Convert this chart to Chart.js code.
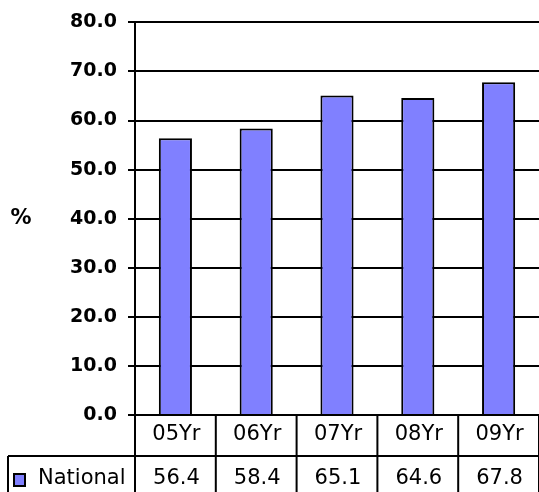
<!DOCTYPE html>
<html>
<head>
<meta charset="utf-8">
<script src="https://cdn.jsdelivr.net/npm/chart.js@4"></script>
<style>
    html, body { margin: 0; padding: 0; background: #fff; }
    #wrap { width: 539px; height: 492px; position: relative; }
</style>
</head>
<body>
<div id="wrap"><canvas id="chart"></canvas></div>
<script>
// Data
const categories = ['05Yr', '06Yr', '07Yr', '08Yr', '09Yr'];
const national = [56.4, 58.4, 65.1, 64.6, 67.8];
const seriesName = 'National';
const axisLabel = '%';

// wide sans to match the stretched look of the original text
const FONT = "'DejaVu Sans', 'Liberation Sans', sans-serif";
const barColor = '#8080ff';

// Data table under the plot + the "%" axis label
const tablePlugin = {
    id: 'dataTable',
    afterDraw(chart) {
        const ctx = chart.ctx;
        const x = chart.scales.x;
        const area = chart.chartArea;
        const n = categories.length;
        const colW = x.width / n;
        const rowH = 41;
        const top = area.bottom;
        const row2 = top + rowH;
        const tableLeft = 8;

        ctx.save();
        ctx.strokeStyle = '#000';
        ctx.lineWidth = 2;

        // horizontal lines
        ctx.beginPath();
        ctx.moveTo(x.left, top);
        ctx.lineTo(x.right, top);
        ctx.moveTo(tableLeft, row2);
        ctx.lineTo(x.right, row2);
        ctx.moveTo(tableLeft, row2 + rowH);
        ctx.lineTo(x.right, row2 + rowH);
        // vertical lines
        for (let i = 0; i <= n; i++) {
            const px = x.left + i * colW;
            ctx.moveTo(px, top);
            ctx.lineTo(px, row2 + rowH);
        }
        ctx.moveTo(tableLeft, row2);
        ctx.lineTo(tableLeft, row2 + rowH);
        ctx.stroke();

        // texts
        ctx.fillStyle = '#000';
        ctx.font = '21px ' + FONT;
        ctx.textAlign = 'center';
        ctx.textBaseline = 'middle';
        categories.forEach((c, i) => {
            const cx = x.getPixelForValue(i);
            ctx.fillText(c, cx + 1, top + 20);
            ctx.fillText(national[i].toFixed(1), cx + 1, row2 + 23);
        });

        // legend key + series name
        ctx.fillStyle = barColor;
        ctx.fillRect(14, row2 + 18, 11, 12);
        ctx.lineWidth = 2;
        ctx.strokeStyle = '#000';
        ctx.strokeRect(14, row2 + 18, 11, 12);
        ctx.fillStyle = '#000';
        ctx.textAlign = 'left';
        ctx.fillText(seriesName, 38, row2 + 23);

        // axis title
        ctx.font = 'bold 21px ' + FONT;
        ctx.textAlign = 'center';
        ctx.fillText(axisLabel, 21, (area.top + area.bottom) / 2);
        ctx.restore();
    }
};

new Chart(document.getElementById('chart'), {
    type: 'bar',
    data: {
        labels: categories,
        datasets: [{
            label: seriesName,
            data: national,
            backgroundColor: barColor,
            borderColor: '#000',
            borderWidth: 2,
            barPercentage: 0.41,
            categoryPercentage: 1
        }]
    },
    options: {
        responsive: true,
        maintainAspectRatio: false,
        animation: false,
        layout: {
            padding: { top: 20, right: 0, bottom: 77, left: 0 }
        },
        plugins: {
            legend: { display: false },
            tooltip: { enabled: false }
        },
        scales: {
            x: {
                display: false,
                offset: true
            },
            y: {
                min: 0,
                max: 80,
                afterFit(scale) {
                    scale.width = 135;
                },
                ticks: {
                    stepSize: 10,
                    color: '#000',
                    padding: 11,
                    font: { family: FONT, size: 19, weight: 'bold' },
                    callback: (v) => Number(v).toFixed(1)
                },
                grid: {
                    color: '#000',
                    lineWidth: 2,
                    tickLength: 7,
                    tickColor: '#000',
                    drawTicks: true
                },
                border: {
                    display: true,
                    color: '#000',
                    width: 2
                }
            }
        }
    },
    plugins: [tablePlugin]
});
</script>
</body>
</html>
